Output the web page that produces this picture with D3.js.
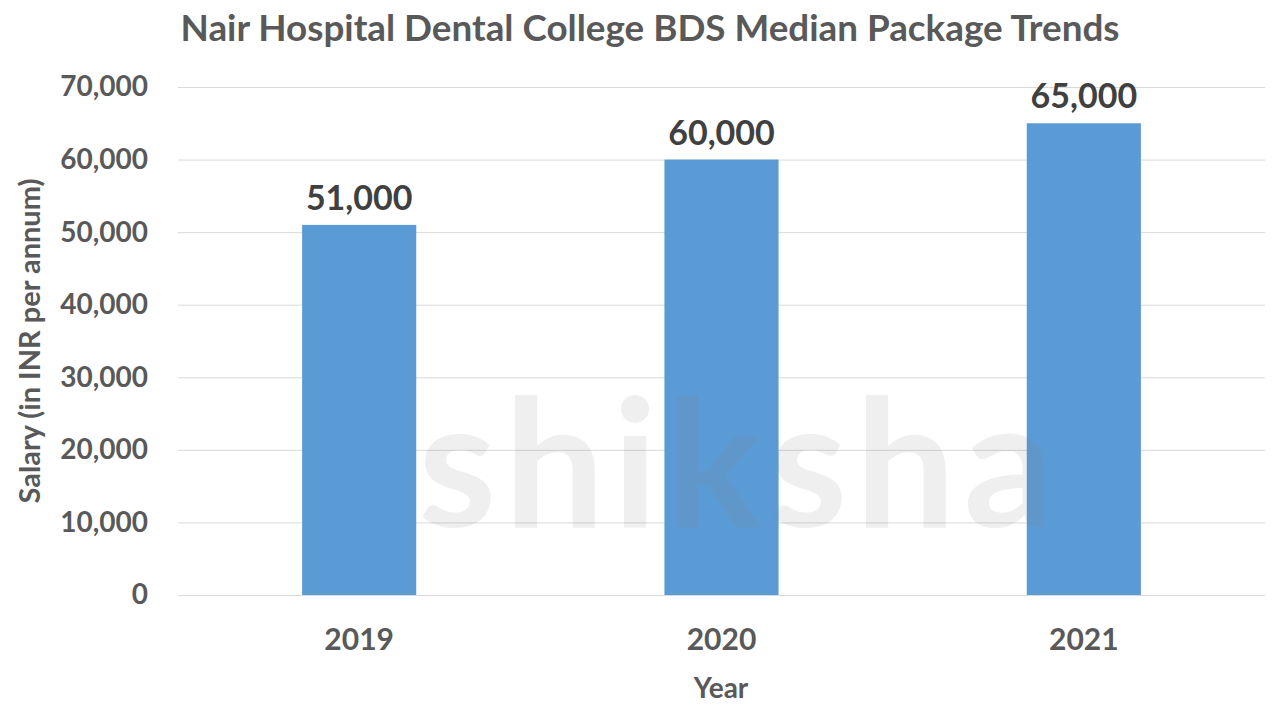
<!DOCTYPE html>
<html lang="en">
<head>
    <meta charset="UTF-8">
    <title>Nair Hospital Dental College BDS Median Package Trends</title>
    <script src="https://d3js.org/d3.v7.min.js"></script>
    <style>
        body { margin: 0; background: #fff; }
        text { font-family: Lato, "Open Sans", sans-serif; font-weight: bold; }
    </style>
</head>
<body>
    <svg id="chart"></svg>

    <script>
        const years = ["2019", "2020", "2021"];
        const medianPackage = [51000, 60000, 65000];
        const yTicks = [0, 10000, 20000, 30000, 40000, 50000, 60000, 70000];

        const width = 1280, height = 720;
        const margin = { top: 87, right: 15, bottom: 125, left: 178 };
        const chartWidth = width - margin.left - margin.right;
        const chartHeight = height - margin.top - margin.bottom;
        const fmt = d3.format(",");

        const svg = d3.select("#chart")
            .attr("width", width)
            .attr("height", height);

        svg.append("text")
            .attr("x", 650)
            .attr("y", 41)
            .attr("text-anchor", "middle")
            .attr("font-size", "36.8px")
            .attr("fill", "#595959")
            .text("Nair Hospital Dental College BDS Median Package Trends");

        const x = d3.scaleBand()
            .domain(years)
            .range([0, chartWidth])
            .padding(0);

        const y = d3.scaleLinear()
            .domain([0, 70000])
            .range([chartHeight, 0]);

        const g = svg.append("g")
            .attr("transform", `translate(${margin.left},${margin.top})`);

        // gridlines
        g.append("g")
            .call(d3.axisLeft(y).tickValues(yTicks).tickSize(-chartWidth).tickFormat(""))
            .call(a => a.select(".domain").remove())
            .call(a => a.selectAll("line").attr("stroke", "#d9d9d9").attr("stroke-width", 1));

        const barW = x.bandwidth() * 0.315;

        g.selectAll("rect.bar")
            .data(years)
            .enter()
            .append("rect")
            .attr("class", "bar")
            .attr("x", (d) => x(d) + (x.bandwidth() - barW) / 2)
            .attr("y", (d, i) => y(medianPackage[i]))
            .attr("width", barW)
            .attr("height", (d, i) => chartHeight - y(medianPackage[i]))
            .attr("fill", "#5b9bd5");

        g.selectAll("text.label")
            .data(years)
            .enter()
            .append("text")
            .attr("class", "label")
            .attr("x", d => x(d) + x.bandwidth() / 2)
            .attr("y", (d, i) => y(medianPackage[i]) - 15)
            .attr("text-anchor", "middle")
            .attr("font-size", "34px")
            .attr("fill", "#404040")
            .text((d, i) => fmt(medianPackage[i]));

        // watermark
        g.append("text")
            .attr("x", 240)
            .attr("y", 440)
            .attr("font-size", "178px")
            .attr("fill", "#7f7f7f")
            .attr("opacity", 0.12)
            .attr("letter-spacing", "8px")
            .text("shiksha");

        // axes
        const yAxis = g.append("g")
            .call(d3.axisLeft(y).tickValues(yTicks).tickSize(0).tickPadding(30).tickFormat(fmt));
        yAxis.select(".domain").remove();
        yAxis.selectAll("text")
            .attr("font-size", "28px")
            .attr("fill", "#595959")
            .style("font-family", "Lato, sans-serif");

        const xAxis = g.append("g")
            .attr("transform", `translate(0,${chartHeight})`)
            .call(d3.axisBottom(x).tickSize(0).tickPadding(34));
        xAxis.select(".domain").remove();
        xAxis.selectAll("text")
            .attr("font-size", "30px")
            .attr("fill", "#595959")
            .style("font-family", "Lato, sans-serif");

        svg.append("text")
            .attr("x", 721)
            .attr("y", 698)
            .attr("text-anchor", "middle")
            .attr("font-size", "28px")
            .attr("fill", "#595959")
            .text("Year");

        svg.append("text")
            .attr("transform", "translate(40,341) rotate(-90)")
            .attr("text-anchor", "middle")
            .attr("font-size", "29px")
            .attr("fill", "#595959")
            .text("Salary (in INR per annum)");
    </script>
</body>
</html>
